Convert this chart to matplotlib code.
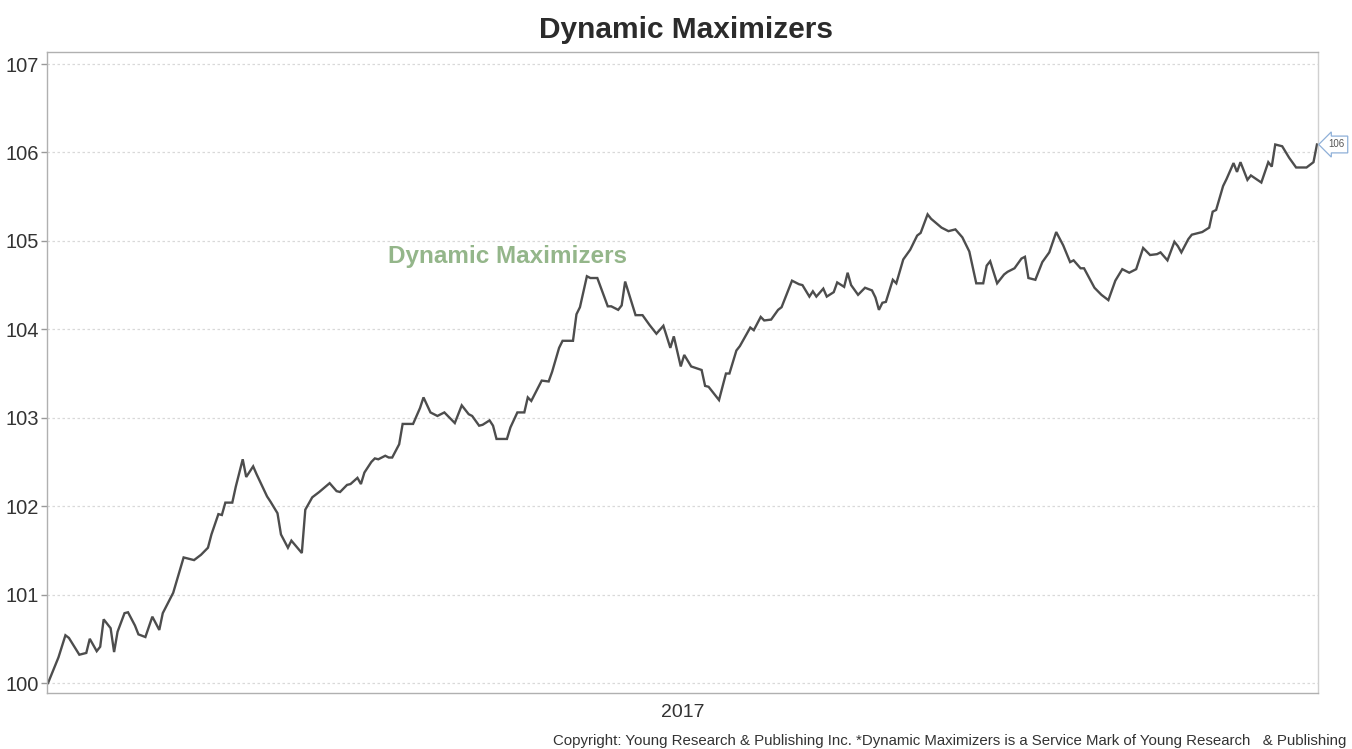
import matplotlib
matplotlib.use("Agg")
import matplotlib.pyplot as plt

# ---- data ----
days = [0, 3, 5, 6, 9, 11, 12, 14, 15, 16, 18, 19, 20, 22, 23, 25, 26, 28, 30, 32,
        33, 36, 39, 42, 44, 46, 47, 49, 50, 51, 53, 54, 56, 57, 59, 60, 63, 64, 66, 67,
        69, 70, 73, 74, 76, 78, 81, 83, 84, 86, 87, 89, 90, 91, 93, 94, 95, 97, 98, 99,
        101, 102, 105, 107, 108, 110, 112, 114, 117, 119, 121, 122, 124, 125, 127, 128, 129, 132, 133, 135,
        137, 138, 139, 142, 144, 145, 147, 148, 151, 152, 153, 155, 156, 158, 161, 162, 164, 165, 166, 169,
        171, 173, 175, 177, 179, 180, 182, 183, 185, 188, 189, 190, 193, 195, 196, 198, 199, 202, 203, 205,
        206, 208, 210, 211, 214, 216, 217, 219, 220, 221, 223, 224, 226, 227, 229, 230, 231, 233, 235, 237,
        238, 239, 240, 241, 243, 244, 246, 248, 250, 251, 253, 254, 257, 259, 261, 263, 265, 267, 269, 270,
        271, 273, 275, 276, 278, 280, 281, 282, 284, 286, 288, 290, 292, 294, 295, 297, 298, 301, 303, 305,
        307, 309, 311, 313, 315, 317, 319, 320, 322, 324, 325, 326, 328, 329, 332, 334, 335, 336, 338, 339,
        341, 342, 343, 345, 346, 349, 351, 352, 353, 355, 357, 359, 362, 364, 365]
values = [100.00, 100.29, 100.54, 100.51, 100.32, 100.34, 100.50, 100.36, 100.41, 100.72,
          100.62, 100.35, 100.58, 100.79, 100.80, 100.65, 100.55, 100.52, 100.75, 100.60,
          100.79, 101.02, 101.42, 101.39, 101.45, 101.53, 101.68, 101.91, 101.90, 102.04,
          102.04, 102.22, 102.53, 102.33, 102.45, 102.36, 102.11, 102.05, 101.92, 101.68,
          101.53, 101.61, 101.47, 101.96, 102.10, 102.16, 102.26, 102.17, 102.16, 102.24,
          102.25, 102.32, 102.25, 102.38, 102.50, 102.54, 102.53, 102.57, 102.55, 102.55,
          102.70, 102.93, 102.93, 103.11, 103.23, 103.06, 103.02, 103.06, 102.94, 103.14,
          103.04, 103.02, 102.91, 102.92, 102.97, 102.91, 102.76, 102.76, 102.89, 103.06,
          103.06, 103.23, 103.19, 103.42, 103.41, 103.52, 103.79, 103.87, 103.87, 104.17,
          104.25, 104.60, 104.58, 104.58, 104.26, 104.26, 104.22, 104.27, 104.54, 104.16,
          104.16, 104.05, 103.95, 104.04, 103.79, 103.92, 103.58, 103.71, 103.58, 103.54,
          103.36, 103.35, 103.20, 103.50, 103.50, 103.76, 103.81, 104.02, 103.99, 104.14,
          104.10, 104.11, 104.22, 104.25, 104.55, 104.51, 104.50, 104.37, 104.43, 104.37,
          104.46, 104.37, 104.42, 104.53, 104.48, 104.64, 104.50, 104.39, 104.47, 104.44,
          104.36, 104.22, 104.30, 104.31, 104.56, 104.52, 104.79, 104.90, 105.06, 105.09,
          105.30, 105.25, 105.15, 105.11, 105.13, 105.04, 104.88, 104.52, 104.52, 104.72,
          104.77, 104.52, 104.62, 104.65, 104.69, 104.80, 104.82, 104.58, 104.56, 104.76,
          104.87, 105.10, 104.95, 104.76, 104.78, 104.69, 104.69, 104.47, 104.39, 104.33,
          104.55, 104.68, 104.64, 104.68, 104.92, 104.84, 104.85, 104.87, 104.78, 104.99,
          104.94, 104.87, 105.02, 105.07, 105.10, 105.15, 105.33, 105.35, 105.62, 105.70,
          105.88, 105.78, 105.89, 105.69, 105.74, 105.66, 105.89, 105.84, 106.09, 106.07,
          105.94, 105.83, 105.83, 105.89, 106.09]
y_ticks = [100, 101, 102, 103, 104, 105, 106, 107]
x_tick_pos = [182.5]
x_tick_labels = ["2017"]
title = "Dynamic Maximizers"
series_label = "Dynamic Maximizers"
footer = "Copyright: Young Research & Publishing Inc. *Dynamic Maximizers is a Service Mark of Young Research   & Publishing"

plt.rcParams["font.family"] = ["Liberation Sans", "DejaVu Sans"]

fig = plt.figure(figsize=(13.52, 7.49), dpi=100)
ax = fig.add_axes([47 / 1352, 1 - 693 / 749, (1318 - 47) / 1352, (693 - 52) / 749])

ax.plot(days, values, color="#4d4d4d", lw=1.7, solid_joinstyle="miter")
ax.set_xlim(-0.3, 365.3)
ax.set_ylim(99.887, 107.136)
ax.set_yticks(y_ticks)
ax.set_yticklabels([str(t) for t in y_ticks], fontsize=14.5, color="#333333")
ax.set_xticks(x_tick_pos)
ax.set_xticklabels(x_tick_labels, fontsize=14, color="#333333")
ax.tick_params(axis="x", length=0, pad=8)
ax.tick_params(axis="y", length=4, width=1, color="#999999", pad=2)
ax.grid(axis="y", color="#d9d9d9", linestyle=(0, (2, 2)), lw=0.9)
for s in ax.spines.values():
    s.set_color("#b0b0b0")
    s.set_linewidth(1.0)
ax.spines["right"].set_color("#d0d0d0")

fig.text(686 / 1352, 1 - 30 / 749, title, ha="center", va="center",
         fontsize=21.5, fontweight="bold", color="#2b2b2b")

ax.text(0.268, 0.681, series_label, transform=ax.transAxes, ha="left", va="center",
        fontsize=17.5, fontweight="bold", color="#94b68a")

last_x, last_y = days[-1], values[-1]
ax.annotate(f"{round(last_y)}", xy=(last_x, last_y), xytext=(8, 0),
            textcoords="offset points", ha="left", va="center", fontsize=7,
            color="#555555", annotation_clip=False,
            bbox=dict(boxstyle="larrow,pad=0.35", fc="white", ec="#8fb0d8", lw=0.9))

fig.text(1346 / 1352, 1 - 741 / 749, footer, ha="right", va="center",
         fontsize=10.8, color="#333333")

fig.savefig("out.png", dpi=100)
